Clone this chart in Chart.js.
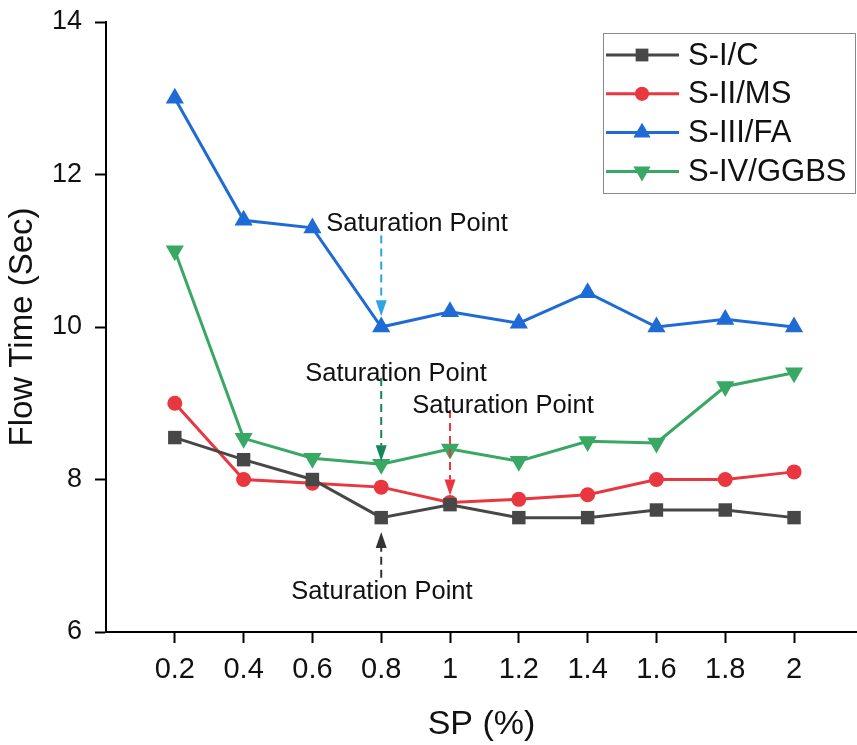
<!DOCTYPE html>
<html>
<head>
<meta charset="utf-8">
<script src="https://cdn.jsdelivr.net/npm/chart.js@4.4.1/dist/chart.umd.min.js"></script>
<style>
  html, body { margin: 0; padding: 0; background: #fff; overflow: hidden; }
  #wrap { width: 857px; height: 745px; position: relative; }
  canvas { display: block; }
</style>
</head>
<body>
<div id="wrap"><canvas id="flowChart"></canvas></div>
<script>
// x values (SP %) and series (flow time, sec)
const spValues = [0.2, 0.4, 0.6, 0.8, 1.0, 1.2, 1.4, 1.6, 1.8, 2.0];
const seriesNames = ["S-I/C", "S-II/MS", "S-III/FA", "S-IV/GGBS"];
const sIC = [8.55, 8.26, 8.0, 7.5, 7.67, 7.5, 7.5, 7.6, 7.6, 7.5];
const sIIMS = [9.0, 8.0, 7.95, 7.9, 7.7, 7.74, 7.8, 8.0, 8.0, 8.1];
const sIIIFA = [13.0, 11.4, 11.3, 10.0, 10.2, 10.05, 10.45, 10.0, 10.1, 10.0];
const sIVGGBS = [11.0, 8.54, 8.28, 8.2, 8.4, 8.24, 8.5, 8.48, 9.22, 9.4];
const yTickValues = [6, 8, 10, 12, 14];

// "Saturation Point" notes: text place and arrow (data units)
const notes = [
    { text: "Saturation Point", tx: 0.904, ty: 11.35, x: 0.8, from: 11.2, to: 10.14, color: "#2aa6e6" },
    { text: "Saturation Point", tx: 0.843, ty: 9.38, x: 0.8, from: 9.33, to: 8.24, color: "#17855a" },
    { text: "Saturation Point", tx: 1.154, ty: 8.96, x: 1.0, from: 8.91, to: 7.79, color: "#e8373f" },
    { text: "Saturation Point", tx: 0.802, ty: 6.52, x: 0.8, from: 6.71, to: 7.31, color: "#333333" }
];

const colors = ["#474747", "#e8373f", "#1f6bd6", "#38a864"];
const styles = [
    { pointStyle: "rect", radius: 9.5, rotation: 0 },
    { pointStyle: "circle", radius: 7.5, rotation: 0 },
    { pointStyle: "triangle", radius: 10.5, rotation: 0 },
    { pointStyle: "triangle", radius: 10.5, rotation: 180 }
];
const allSeries = [sIC, sIIMS, sIIIFA, sIVGGBS];

const FONT = "'Liberation Sans', Arial, sans-serif";

const datasets = allSeries.map((vals, i) => ({
    label: seriesNames[i],
    data: vals.map((v, k) => ({ x: spValues[k], y: v })),
    borderColor: colors[i],
    backgroundColor: colors[i],
    borderWidth: 3,
    pointStyle: styles[i].pointStyle,
    pointRadius: styles[i].radius,
    pointRotation: styles[i].rotation,
    pointBorderWidth: 0,
    pointBackgroundColor: colors[i],
    tension: 0
}));

// dashed arrows + text
const notesPlugin = {
    id: "notes",
    afterDatasetsDraw(chart) {
        const ctx = chart.ctx;
        const xs = chart.scales.x, ys = chart.scales.y;
        ctx.save();
        notes.forEach(n => {
            const px = xs.getPixelForValue(n.x);
            const y0 = ys.getPixelForValue(n.from);
            const y1 = ys.getPixelForValue(n.to);
            const dir = y1 > y0 ? 1 : -1;
            const headLen = 16;
            ctx.strokeStyle = n.color;
            ctx.lineWidth = 2;
            ctx.setLineDash([8, 5]);
            ctx.beginPath();
            ctx.moveTo(px, y0);
            ctx.lineTo(px, y1 - dir * headLen);
            ctx.stroke();
            ctx.setLineDash([]);
            ctx.fillStyle = n.color;
            ctx.beginPath();
            ctx.moveTo(px, y1);
            ctx.lineTo(px - 5.5, y1 - dir * headLen);
            ctx.lineTo(px + 5.5, y1 - dir * headLen);
            ctx.closePath();
            ctx.fill();

            ctx.fillStyle = "#111";
            ctx.font = "25.5px " + FONT;
            ctx.textAlign = "center";
            ctx.textBaseline = "middle";
            ctx.fillText(n.text, xs.getPixelForValue(n.tx), ys.getPixelForValue(n.ty));
        });
        ctx.restore();
    }
};

// legend with line + marker
const legendPlugin = {
    id: "boxLegend",
    afterDraw(chart) {
        const ctx = chart.ctx;
        const left = 603, top = 33, w = 252, h = 160;
        ctx.save();
        ctx.strokeStyle = "#8a8a8a";
        ctx.lineWidth = 1;
        ctx.strokeRect(left + 0.5, top + 0.5, w, h);
        chart.data.datasets.forEach((ds, i) => {
            const cy = top + 22 + i * 38.8;
            ctx.strokeStyle = ds.borderColor;
            ctx.lineWidth = 3;
            ctx.beginPath();
            ctx.moveTo(606, cy);
            ctx.lineTo(679, cy);
            ctx.stroke();
            ctx.fillStyle = ds.borderColor;
            Chart.helpers.drawPoint(ctx, {
                pointStyle: ds.pointStyle,
                radius: ds.pointRadius * 0.95,
                rotation: ds.pointRotation,
                borderWidth: 0
            }, 642, cy);
            ctx.fillStyle = "#111";
            ctx.font = "31px " + FONT;
            ctx.textAlign = "left";
            ctx.textBaseline = "middle";
            ctx.fillText(ds.label, 688, cy + 1);
        });
        ctx.restore();
    }
};

new Chart(document.getElementById("flowChart"), {
    type: "line",
    data: { datasets },
    options: {
        responsive: true,
        maintainAspectRatio: false,
        animation: false,
        devicePixelRatio: 1,
        // no extra room for marker overflow: axis runs to the right edge
        layout: { autoPadding: false, padding: { top: 22, right: 0, left: 0, bottom: 0 } },
        plugins: {
            legend: { display: false },
            tooltip: { enabled: false }
        },
        scales: {
            x: {
                type: "linear",
                min: 0,
                max: 2.183,
                afterBuildTicks: (scale) => {
                    scale.ticks = spValues.map(v => ({ value: v }));
                },
                afterFit: (scale) => {
                    scale.height = 113;
                    scale.paddingLeft = 0;
                    scale.paddingRight = 0;
                },
                ticks: {
                    color: "#111",
                    font: { family: FONT, size: 29 },
                    padding: 10,
                    maxRotation: 0,
                    autoSkip: false,
                    callback: (v) => String(Math.round(v * 10) / 10)
                },
                grid: {
                    drawOnChartArea: false,
                    drawTicks: true,
                    tickLength: 11,
                    tickWidth: 2,
                    tickColor: "#000"
                },
                border: { color: "#000", width: 2 },
                title: {
                    display: true,
                    text: "SP (%)",
                    color: "#111",
                    font: { family: FONT, size: 34 },
                    padding: { top: 0, bottom: 0 }
                }
            },
            y: {
                min: 6,
                max: 14,
                afterBuildTicks: (scale) => {
                    scale.ticks = yTickValues.map(v => ({ value: v }));
                },
                afterFit: (scale) => {
                    scale.width = 106;
                    scale.paddingTop = 0;
                    scale.paddingBottom = 0;
                },
                ticks: {
                    color: "#111",
                    font: { family: FONT, size: 27 },
                    padding: 13
                },
                grid: {
                    drawOnChartArea: false,
                    drawTicks: true,
                    tickLength: 11,
                    tickWidth: 2,
                    tickColor: "#000"
                },
                border: { color: "#000", width: 2 },
                title: {
                    display: true,
                    text: "Flow Time (Sec)",
                    color: "#111",
                    font: { family: FONT, size: 33 },
                    padding: { top: 3, bottom: 0 }
                }
            }
        }
    },
    plugins: [notesPlugin, legendPlugin]
});
</script>
</body>
</html>
